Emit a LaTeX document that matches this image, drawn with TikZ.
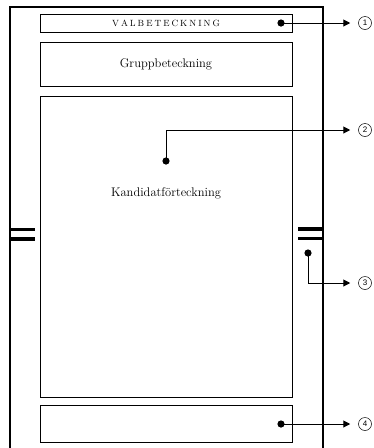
\documentclass[tikz,border=0pt]{standalone}
\usepackage{fontspec}
\usetikzlibrary{arrows.meta}
\newfontfamily\numfont{Liberation Sans}
\newcommand{\spacedcaps}[1]{\def\sep{}\spacedloop#1\relax}
\def\spacedloop#1{\ifx#1\relax\else\sep#1\def\sep{\kern2pt}\expandafter\spacedloop\fi}
\begin{document}
\begin{tikzpicture}[x=1pt,y=-1pt,
  box/.style={draw,line width=0.9pt,inner sep=0pt},
  num/.style={draw,circle,line width=0.5pt,minimum size=13pt,inner sep=0pt,font=\numfont\fontsize{8}{8}\selectfont},
  arr/.style={line width=1pt,-{Triangle[length=7pt,width=7pt]},shorten >=8pt},
  dotc/.style={radius=3.6pt},
  eq/.style={line width=3.4pt},
  lbl/.style={font=\fontsize{12.5}{14}\selectfont}]
\useasboundingbox (0,0) rectangle (374,448);
% outer frame
\draw[line width=1.1pt] (10,448) -- (10,7) -- (323,7) -- (323,448);
% boxes
\node[box,minimum width=252pt,minimum height=18pt] (vb) at (166,23)
  {\fontsize{9}{9}\selectfont\spacedcaps{VALBETECKNING}};
\node[box,lbl,minimum width=252pt,minimum height=44pt] (gb) at (166,64)
  {Gruppbeteckning};
\node[box,minimum width=252pt,minimum height=301pt] (kf) at (166,246.5) {};
\node[lbl] (kft) at (166,193) {Kandidatförteckning};
\node[box,minimum width=252pt,minimum height=37pt] (fb) at (166,423.5) {};
% equals marks
\draw[eq] (9,229.5) -- (35,229.5);
\draw[eq] (9,239) -- (35,239);
\draw[eq] (298,229) -- (324,229);
\draw[eq] (298,238.5) -- (324,238.5);
% numbered circles
\node[num] (c1) at (365,23) {1};
\node[num] (c2) at (365,130) {2};
\node[num] (c3) at (365,283) {3};
\node[num] (c4) at (365,424) {4};
% dots
\coordinate (d1) at (281,23);
\coordinate (d2) at (166,161);
\coordinate (d3) at (308,253);
\coordinate (d4) at (281,424);
\foreach \d in {d1,d2,d3,d4} \fill (\d) circle[dotc];
% connectors
\draw[arr] (d1) -- (c1);
\draw[arr] (d2) |- (c2);
\draw[arr] (d3) |- (c3);
\draw[arr] (d4) -- (c4);
\end{tikzpicture}
\end{document}
